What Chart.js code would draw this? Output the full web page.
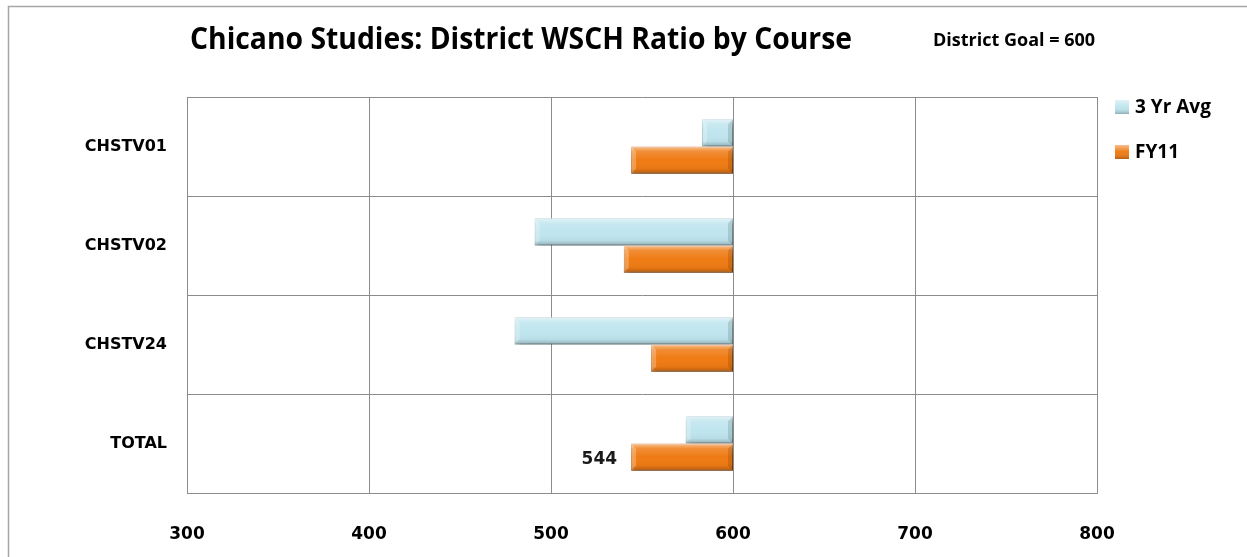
<!DOCTYPE html>
<html>
<head>
<meta charset="utf-8">
<script src="https://cdn.jsdelivr.net/npm/chart.js@4.4.0/dist/chart.umd.min.js"></script>
<style>
  html, body { margin: 0; padding: 0; background: #fff; }
  #wrap { width: 1247px; height: 557px; position: relative; }
</style>
</head>
<body>
<div id="wrap"><canvas id="chart"></canvas></div>
<script>
const courses = ['CHSTV01', 'CHSTV02', 'CHSTV24', 'TOTAL'];
const avg3yr = [583, 491, 480, 574];
const fy11 = [544, 540, 555, 544];
const goal = 600;
const seriesNames = ['3 Yr Avg', 'FY11'];
const seriesColors = ['#bfe5ee', '#ef7b14'];

// bars float from the value up to the district goal
const toGoal = arr => arr.map(v => [v, goal]);

const decor = {
  id: 'decor',
  beforeDraw(chart) {
    const ctx = chart.ctx;
    ctx.save();
    ctx.strokeStyle = '#a6a6a6';
    ctx.lineWidth = 1.5;
    ctx.strokeRect(8.5, 6.5, 1300, 700);
    ctx.restore();
  },
  beforeDatasetsDraw(chart) {
    const ctx = chart.ctx;
    ctx.save();
    ctx.shadowColor = 'rgba(0,0,0,0.35)';
    ctx.shadowBlur = 5;
    ctx.shadowOffsetX = 2;
    ctx.shadowOffsetY = 3;
  },
  afterDatasetsDraw(chart) {
    const ctx = chart.ctx;
    ctx.restore();
    // bevel look on each bar
    chart.data.datasets.forEach((ds, i) => {
      chart.getDatasetMeta(i).data.forEach(el => {
        const p = el.getProps(['x', 'y', 'base', 'height'], true);
        const l = Math.min(p.x, p.base), r = Math.max(p.x, p.base);
        const t = p.y - p.height / 2, h = p.height;
        const g = ctx.createLinearGradient(0, t, 0, t + h);
        g.addColorStop(0, 'rgba(255,255,255,0.55)');
        g.addColorStop(0.18, 'rgba(255,255,255,0.15)');
        g.addColorStop(0.5, 'rgba(255,255,255,0)');
        g.addColorStop(0.82, 'rgba(0,0,0,0.04)');
        g.addColorStop(1, 'rgba(0,0,0,0.25)');
        ctx.fillStyle = g;
        ctx.fillRect(l, t, r - l, h);
        // end bevels
        ctx.fillStyle = 'rgba(255,255,255,0.25)';
        ctx.beginPath();
        ctx.moveTo(l, t); ctx.lineTo(l + 5, t + 5); ctx.lineTo(l + 5, t + h - 5); ctx.lineTo(l, t + h);
        ctx.fill();
        ctx.fillStyle = 'rgba(0,0,0,0.12)';
        ctx.beginPath();
        ctx.moveTo(r, t); ctx.lineTo(r - 5, t + 5); ctx.lineTo(r - 5, t + h - 5); ctx.lineTo(r, t + h);
        ctx.fill();
      });
    });
    // value label on the TOTAL FY11 bar
    const last = courses.length - 1;
    const el = chart.getDatasetMeta(1).data[last];
    const p = el.getProps(['x', 'y', 'base'], true);
    ctx.save();
    ctx.font = 'bold 17px "DejaVu Sans"';
    ctx.fillStyle = '#1a1a1a';
    ctx.textAlign = 'right';
    ctx.textBaseline = 'middle';
    ctx.fillText(String(fy11[last]), Math.min(p.x, p.base) - 14, p.y + 2);
    ctx.restore();
  },
  afterDraw(chart) {
    const ctx = chart.ctx;
    ctx.save();
    ctx.fillStyle = '#000';
    ctx.textBaseline = 'alphabetic';
    ctx.textAlign = 'center';
    ctx.font = 'bold 30px "Open Sans"';
    ctx.fillText('Chicano Studies: District WSCH Ratio by Course', 521, 49, 662);
    ctx.textAlign = 'left';
    ctx.font = 'bold 18px "Open Sans"';
    ctx.fillText('District Goal = ' + goal, 933, 46, 180);
    // legend
    seriesNames.forEach((name, i) => {
      const cy = 107 + i * 45;
      ctx.fillStyle = seriesColors[i];
      ctx.fillRect(1115, cy - 7, 14, 14);
      const g = ctx.createLinearGradient(0, cy - 7, 0, cy + 7);
      g.addColorStop(0, 'rgba(255,255,255,0.5)');
      g.addColorStop(0.5, 'rgba(255,255,255,0)');
      g.addColorStop(1, 'rgba(0,0,0,0.25)');
      ctx.fillStyle = g;
      ctx.fillRect(1115, cy - 7, 14, 14);
      ctx.fillStyle = '#000';
      ctx.font = 'bold 19px "Open Sans"';
      ctx.textBaseline = 'middle';
      ctx.fillText(name, 1135, cy + 1, 84);
    });
    ctx.restore();
  }
};

new Chart(document.getElementById('chart'), {
  type: 'bar',
  data: {
    labels: courses,
    datasets: [
      { label: seriesNames[0], data: toGoal(avg3yr), backgroundColor: seriesColors[0], borderColor: '#98c6d2', borderWidth: 1, borderSkipped: false },
      { label: seriesNames[1], data: toGoal(fy11), backgroundColor: seriesColors[1], borderColor: '#c8600a', borderWidth: 1, borderSkipped: false }
    ]
  },
  options: {
    indexAxis: 'y',
    responsive: true,
    maintainAspectRatio: false,
    animation: false,
    categoryPercentage: 0.55,
    barPercentage: 1.0,
    layout: { padding: { top: 97, right: 150, left: 0, bottom: 0 } },
    plugins: {
      legend: { display: false },
      title: { display: false },
      tooltip: { enabled: false }
    },
    scales: {
      x: {
        min: 300,
        max: 800,
        ticks: { stepSize: 100, padding: 31, color: '#000', font: { family: 'DejaVu Sans', weight: 'bold', size: 17 } },
        grid: { color: '#8c8c8c', drawTicks: false },
        border: { color: '#8c8c8c' },
        afterFit: s => { s.height = 64; }
      },
      y: {
        ticks: { padding: 20, color: '#000', font: { family: 'DejaVu Sans', weight: 'bold', size: 16 } },
        grid: { color: '#8c8c8c', drawTicks: false },
        border: { color: '#8c8c8c' },
        afterFit: s => { s.width = 187; }
      }
    }
  },
  plugins: [decor]
});
</script>
</body>
</html>
